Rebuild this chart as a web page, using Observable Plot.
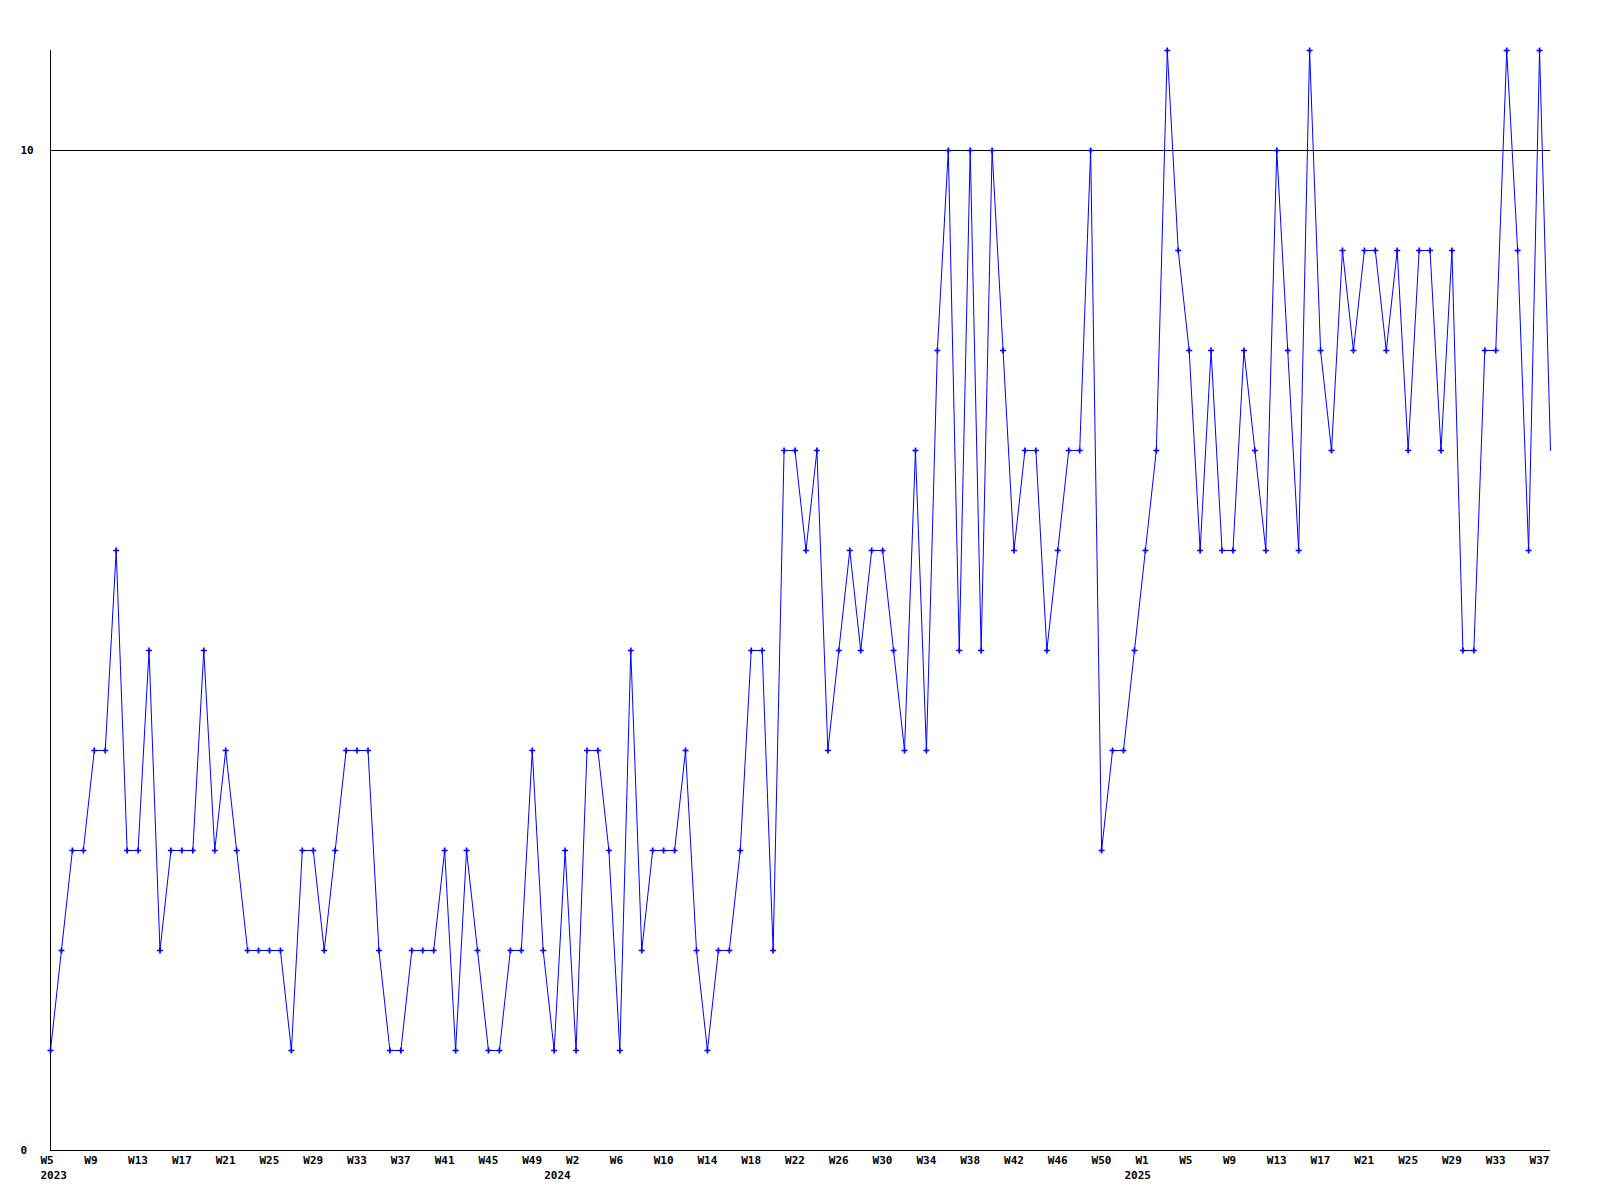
<!DOCTYPE html>
<html>
<head>
<meta charset="utf-8">
<script src="https://cdn.jsdelivr.net/npm/d3@7"></script>
<script src="https://cdn.jsdelivr.net/npm/@observablehq/plot@0.6"></script>
<style>
  html, body { margin: 0; padding: 0; background: #ffffff; }
  #chart svg { display: block; }
</style>
</head>
<body>
<div id="chart"></div>
<script>
// Weekly values, 2023 W5 .. 2025 W38 (one per week)
const values = [
  1,2,3,3,4,4,6,3,3,5,
  2,3,3,3,5,3,4,3,2,2,
  2,2,1,3,3,2,3,4,4,4,
  2,1,1,2,2,2,3,1,3,2,
  1,1,2,2,4,2,1,3,1,4,
  4,3,1,5,2,3,3,3,4,2,
  1,2,2,3,5,5,2,7,7,6,
  7,4,5,6,5,6,6,5,4,7,
  4,8,10,5,10,5,10,8,6,7,
  7,5,6,7,7,10,3,4,4,5,
  6,7,11,9,8,6,8,6,6,8,
  7,6,10,8,6,11,8,7,9,8,
  9,9,8,9,7,9,9,7,9,5,
  5,8,8,11,9,6,11,7
];

// Week tick labels (one every 4th week)
const weekTickLabels = [
  "W5","W9","W13","W17","W21","W25","W29","W33","W37","W41","W45","W49",
  "W2","W6","W10","W14","W18","W22","W26","W30","W34","W38","W42","W46","W50",
  "W1","W5","W9","W13","W17","W21","W25","W29","W33","W37"
];
const tickStep = 4;

// Year labels and the week index they sit under
const yearLabels = ["2023", "2024", "2025"];
const yearIndex = [0, 46, 99];

// Y tick labels and reference line
const yTicks = [0, 10];
const refLine = [10];

const series = values.map((v, i) => ({i, v}));
const xTicks = weekTickLabels.map((label, k) => ({i: k * tickStep, label}));
const years = yearLabels.map((label, k) => ({i: yearIndex[k], label}));
const lastIndex = values.length - 1;

const chart = Plot.plot({
  width: 1600,
  height: 1200,
  marginLeft: 50,
  marginRight: 50,
  marginTop: 50,
  marginBottom: 50,
  x: {type: "linear", domain: [0, lastIndex], axis: null},
  y: {type: "linear", domain: [0, 11], axis: null},
  style: {
    fontFamily: "'DejaVu Sans Mono', monospace",
    fontWeight: "bold",
    fontSize: "11px",
    background: "#ffffff",
    color: "#000000"
  },
  marks: [
    Plot.ruleY(refLine, {stroke: "#000000", strokeWidth: 1}),
    Plot.ruleY([0], {stroke: "#000000", strokeWidth: 1}),
    Plot.ruleX([0], {stroke: "#000000", strokeWidth: 1}),
    Plot.line(series, {x: "i", y: "v", stroke: "#0000ff", strokeWidth: 1, curve: "linear"}),
    Plot.dot(series.filter(d => d.i < lastIndex), {x: "i", y: "v", symbol: "plus", r: 2.1, stroke: "#0000ff", strokeWidth: 1.7}),
    Plot.text(yTicks, {y: d => d, text: d => String(d), frameAnchor: "left", dx: -30, textAnchor: "start", fill: "#000000"}),
    Plot.text(xTicks, {x: "i", text: "label", frameAnchor: "bottom", dy: 13, dx: -10, textAnchor: "start", fill: "#000000"}),
    Plot.text(years, {x: "i", text: "label", frameAnchor: "bottom", dy: 28.5, dx: -10, textAnchor: "start", fill: "#000000"})
  ]
});
document.getElementById("chart").appendChild(chart);
</script>
</body>
</html>
